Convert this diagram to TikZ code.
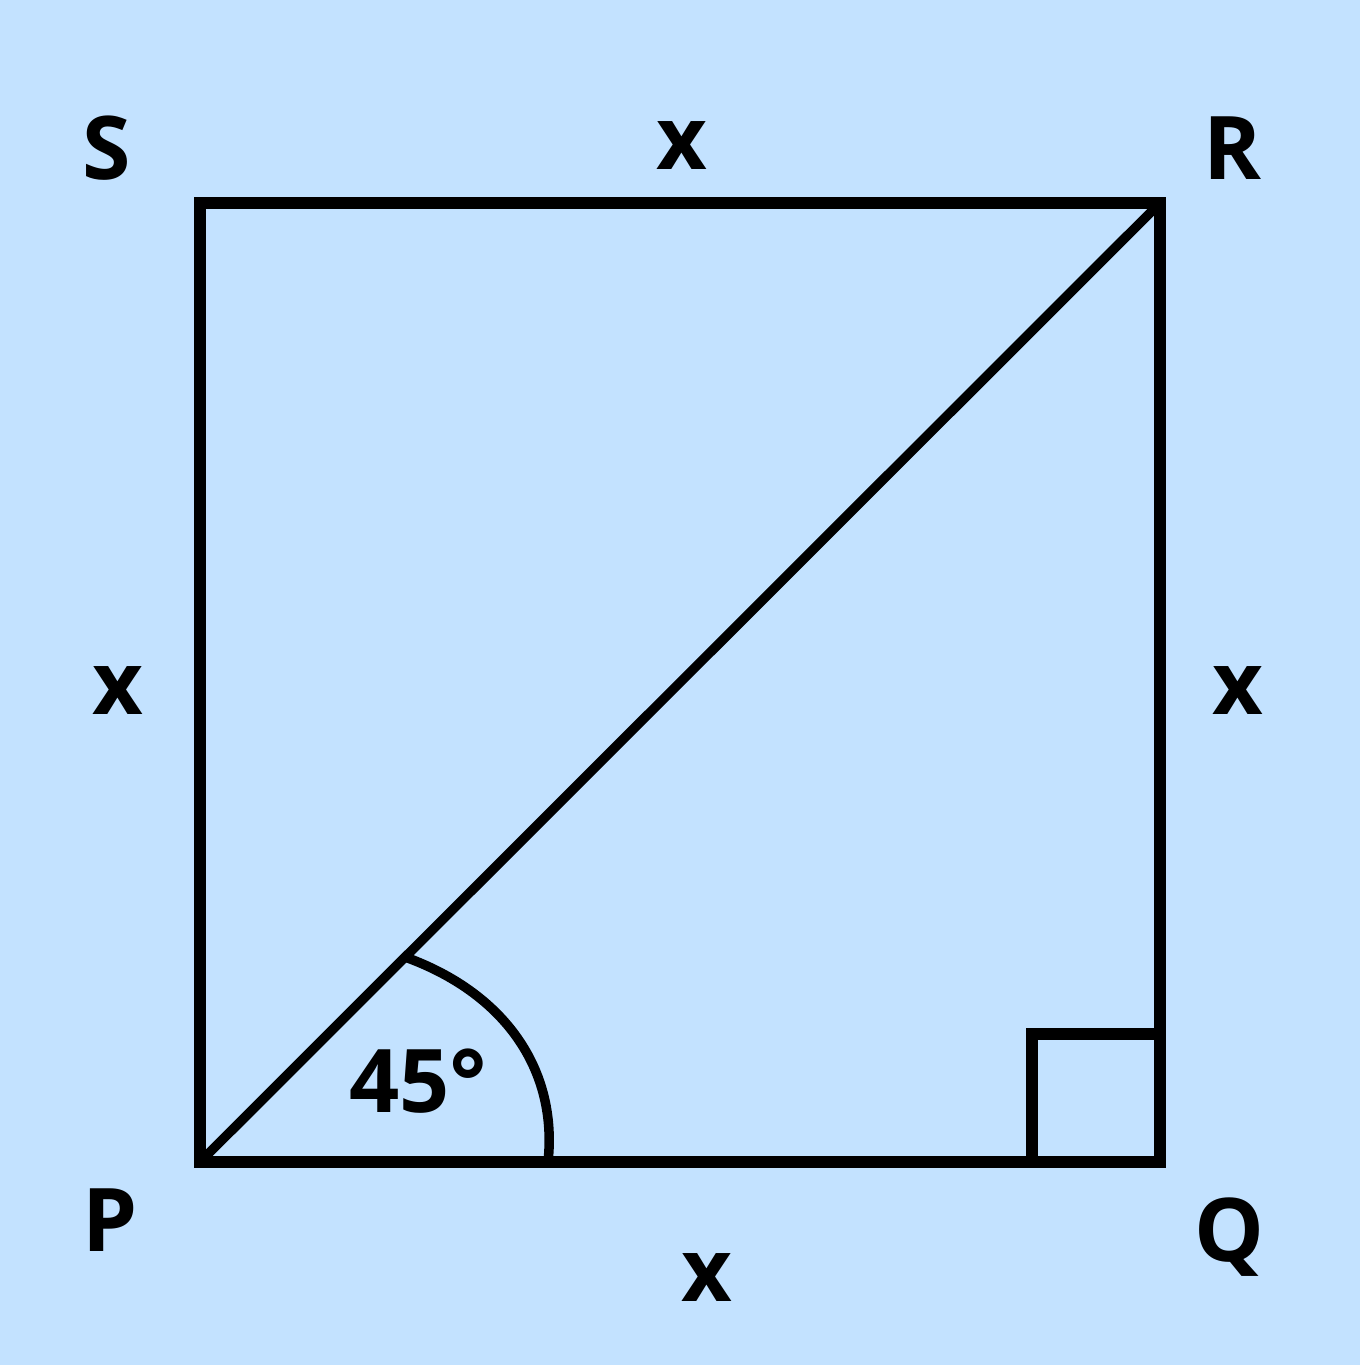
\documentclass[tikz,border=0pt]{standalone}
\usepackage{fontspec}
\setmainfont{Open Sans}
\usetikzlibrary{positioning}

\definecolor{skyback}{RGB}{195,226,255}

\begin{document}
\begin{tikzpicture}[
  side/.style={line width=0.12cm},
  diag/.style={line width=0.095cm},
  lbl/.style={anchor=base, inner sep=0pt, font=\fontsize{25}{30}\selectfont\bfseries}
]
% background and page size
\fill[skyback] (0,0) rectangle (13.60,13.65);
\useasboundingbox (0,0) rectangle (13.60,13.65);

% corners
\coordinate (P) at (2.00,2.03);
\coordinate (Q) at (11.60,2.03);
\coordinate (R) at (11.60,11.62);
\coordinate (S) at (2.00,11.62);

\draw[side] (P) -- (Q) -- (R) -- (S) -- cycle;
\draw[diag] (P) -- (R);

% right angle at Q
\coordinate (Qa) at ([xshift=-1.28cm]Q);
\coordinate (Qb) at ([xshift=-1.28cm,yshift=1.28cm]Q);
\coordinate (Qc) at ([yshift=1.28cm]Q);
\draw[side] (Qa) -- (Qb) -- (Qc);

% angle mark at P
\coordinate (A1) at (4.05,4.08);
\coordinate (A2) at (5.48,2.03);
\draw[line width=0.095cm] (A1) .. controls (5.05,3.72) and (5.58,2.95) .. (A2);
\node[lbl] (ang) at (4.18,2.52) {45°};

% vertex labels
\node[lbl] (lS) at (1.07,11.85) {S};
\node[lbl] (lR) at (12.32,11.85) {R};
\node[lbl] (lP) at (1.10,1.13) {P};
\node[lbl] (lQ) at (12.29,1.03) {Q};

% side labels
\node[lbl] (xt) at (6.82,11.95) {x};
\node[lbl] (xl) at (1.18,6.50) {x};
\node[lbl] (xr) at (12.38,6.50) {x};
\node[lbl] (xb) at (7.07,0.63) {x};
\end{tikzpicture}
\end{document}
